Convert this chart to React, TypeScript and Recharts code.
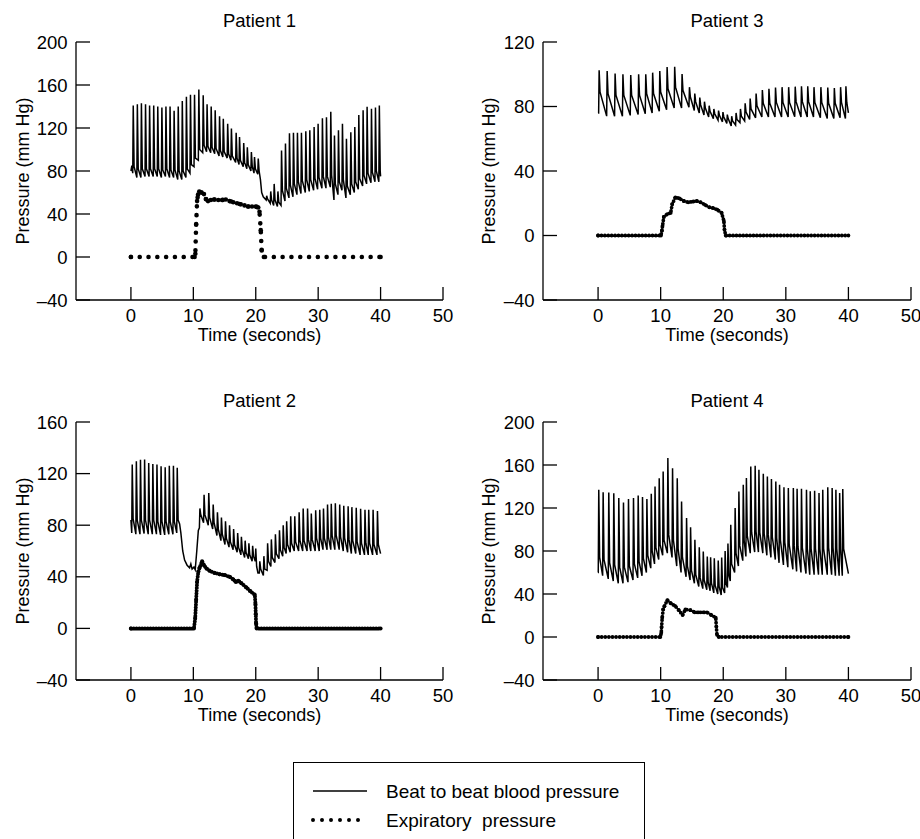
import React from 'react';
import { ComposedChart, Line, XAxis, YAxis } from 'recharts';

// ---------- shared axis values ----------
const X_TICKS = [0, 10, 20, 30, 40, 50];
const X_DOMAIN: [number, number] = [-8.8, 50];
const Y_TICKS_200 = [-40, 0, 40, 80, 120, 160, 200];
const Y_TICKS_160 = [-40, 0, 40, 80, 120, 160];
const Y_TICKS_120 = [-40, 0, 40, 80, 120];
const PANEL_TITLES = ['Patient 1', 'Patient 2', 'Patient 3', 'Patient 4'];
const X_LABEL = 'Time (seconds)';
const Y_LABEL = 'Pressure (mm Hg)';
const LEGEND_LABELS = ['Beat to beat blood pressure', 'Expiratory  pressure'];

// ---------- Patient 1 ----------
const p1BeatTime = [0.37, 1.03, 1.68, 2.34, 2.99, 3.65, 4.3, 4.96, 5.61, 6.27, 6.92, 7.58, 8.23, 8.89, 9.54,
  10.19, 10.88, 11.58, 12.2, 12.86, 13.5, 14.2, 14.8, 15.5, 16.1, 16.86, 17.4, 18.07, 18.65, 19.3, 19.8, 20.4,
  21.75, 22.4, 22.95, 23.55,
  24.13, 24.76, 25.4, 26.04, 26.68, 27.32, 28.02, 28.66, 29.35, 29.99, 30.68, 31.33, 32.02, 32.61, 33.25, 33.89, 34.53, 35.23, 35.87, 36.51, 37.2, 37.84, 38.54, 39.18, 39.8];
const p1Systolic = [141, 142, 143, 142, 141, 141, 140, 139, 140, 140, 136, 140, 145, 149, 151,
  151, 155.8, 150.5, 142, 140, 136.6, 131, 128.6, 124, 119.5, 115.6, 111.7, 106, 102, 97.7, 93, 91.6,
  57, 61, 68, 61,
  99, 105.5, 115, 115.5, 115.5, 115.5, 117, 118, 121, 124, 129, 130, 135, 113, 118, 124, 110, 116, 121, 132, 136.6, 139.7, 138, 139, 141];
const p1Diastolic = [78, 74, 74, 75, 75, 75, 75, 74, 75, 74, 74, 72, 72, 74, 78,
  84, 90, 97, 98, 97, 96, 94, 93, 92, 90, 88, 86, 84, 82, 80, 78, 77,
  53, 50, 48, 47,
  48, 52, 55, 56, 58, 59, 60, 61, 62, 63, 64, 64, 65, 53, 58, 62, 55, 58, 60, 63, 66, 68, 69, 70, 70];
const p1Notch = [84, 82, 82, 82, 82, 82, 82, 81, 82, 81, 81, 80, 80, 82, 86,
  92, 100, 104, 103, 102, 101, 99, 98, 96, 94, 92, 90, 88, 86, 84, 82, 80,
  54, 53, 53, 51,
  62, 64, 67, 68, 70, 71, 72, 72, 73, 74, 75, 75, 76, 68, 70, 72, 66, 68, 70, 73, 76, 78, 79, 80, 80];
const p1ExtraTime = [0, 0.15, 20.75, 20.95, 21.2, 40];
const p1ExtraValue = [80, 85, 72, 60, 56, 75];
const p1ExpTime = [0, 10.2, 10.32, 10.45, 10.6, 10.75, 10.95, 11.3, 11.7, 12.0, 12.35, 12.8, 13.4, 14.0, 14.6, 15.2, 15.8, 16.4, 17.0, 17.6, 18.2, 18.8, 19.4, 20.0, 20.4, 20.6, 20.8, 20.95, 21.3, 40];
const p1ExpValue = [0, 0, 3, 30, 52, 58, 61, 60, 58.5, 54, 52, 53, 53.5, 53, 53, 53.5, 52, 51, 50, 49, 48, 47, 47, 47, 46, 42, 25, 6, 0, 0];

// ---------- Patient 2 ----------
const p2BeatTime = [0.21, 0.87, 1.53, 2.19, 2.85, 3.51, 4.17, 4.83, 5.49, 6.15, 6.81, 7.42,
  11.05, 11.72, 12.47, 13.18, 13.86, 14.5, 15.15, 15.8, 16.45, 17.1, 17.7, 18.3, 18.9, 19.5, 20.0,
  20.65, 21.3, 21.9, 22.5, 23.15, 23.8, 24.4, 24.95, 25.6, 26.25, 26.95, 27.6, 28.3, 28.9, 29.6, 30.25, 30.85, 31.5, 32.1, 32.75, 33.45, 34.1, 34.8, 35.4, 36.1, 36.8, 37.5, 38.1, 38.8, 39.5];
const p2Systolic = [127, 129.5, 130.8, 131, 128.2, 127.5, 127, 125.6, 125, 126, 126, 124.5,
  93, 103.6, 105, 96, 90, 86, 83, 80, 77, 74, 71, 68, 66, 64, 62,
  52, 56, 66, 69, 73, 76, 80, 83, 87, 87, 90, 93, 93, 89, 91.5, 92, 93, 96, 96.6, 97, 96, 95, 94.6, 94, 93.5, 92.8, 92, 92, 92, 91];
const p2Diastolic = [74, 73, 73, 73.5, 73, 73, 73, 72.5, 72.5, 73, 73, 74,
  78, 82, 80, 77, 72, 68, 65, 63, 61, 59, 57, 55, 54, 52, 52,
  43, 41, 45, 48, 51, 54, 56, 58, 59, 60, 60, 60, 60, 60, 60, 60, 61, 61, 61, 61, 61, 60, 59, 58, 58, 57, 57, 57, 57, 57];
const p2Notch = [85, 84, 84, 84, 84, 84, 83, 83, 83, 83, 83, 84,
  88, 88, 86, 82, 77, 73, 70, 67, 65, 63, 61, 59, 57, 56, 48,
  46, 46, 52, 55, 58, 61, 63, 65, 66, 67, 68, 68, 69, 69, 70, 70, 70, 71, 72, 72, 71, 70, 69, 68, 67, 66, 66, 66, 65, 65];
const p2ExtraTime = [0, 7.8, 8.0, 8.3, 8.6, 9.0, 9.4, 9.6, 9.8, 10.1, 10.3, 10.55, 10.8, 20.35, 40];
const p2ExtraValue = [84, 81, 74, 60, 53, 49, 47, 50, 46, 47.5, 45.5, 60, 76, 43, 58];
const p2ExpTime = [0, 10.1, 10.3, 10.45, 10.6, 10.8, 11.0, 11.4, 11.7, 12.1, 12.6, 13.4, 14.2, 15.0, 15.8, 16.4, 16.8, 17.2, 17.7, 18.5, 19.1, 19.85, 19.95, 20.0, 20.05, 20.15, 40];
const p2ExpValue = [0, 0, 8, 22, 36, 44, 47, 52, 49, 46.5, 44.7, 43, 42, 41.3, 40, 38, 36, 37, 35, 31.7, 29, 26, 19, 11, 4, 0, 0];

// ---------- Patient 3 ----------
const p3BeatTime = [0.17, 1.45, 2.72, 3.97, 5.22, 6.48, 7.62, 8.72, 9.86, 11.03, 12.24, 13.42,
  14.6, 15.45, 16.25, 17.0, 17.75, 18.5, 19.25, 19.95, 20.65, 21.35, 22.05, 22.75, 23.5,
  24.3, 25.25, 26.25, 27.3, 28.35, 29.4, 30.45, 31.5, 32.5, 33.5, 34.5, 35.6, 36.7, 37.75, 38.75, 39.6];
const p3Systolic = [102.5, 102, 100.5, 100, 99.5, 100, 100, 101, 102, 104.5, 104.7, 100.2,
  92, 88, 85.5, 83, 80.5, 78.5, 77.5, 76.5, 75, 74, 76, 78.5, 82,
  85, 88, 90.2, 91, 91.7, 92, 92, 92.3, 92.5, 92.5, 92, 92, 91.7, 91.5, 92, 92.5];
const p3Diastolic = [76, 74, 74, 74, 74.5, 75, 75.5, 76, 77, 78, 79, 79,
  79.5, 77.5, 76, 74.7, 73.5, 72.5, 71.5, 70.5, 69.5, 68, 68.5, 70, 71,
  72, 73, 73.5, 73.5, 73.5, 73.5, 73.5, 73.7, 73.5, 73.5, 73.5, 73, 72.5, 72.5, 73, 72.5];
const p3Notch = [89, 88, 87, 87, 87, 87, 88, 88, 89, 91, 92, 90,
  86, 83, 81, 79, 77, 75.5, 74.5, 73.5, 72.5, 71, 72, 74, 76.5,
  78.5, 80.5, 82, 82, 82.5, 82.5, 82.5, 83, 83, 83, 82.5, 82.5, 82, 82, 82.5, 82.5];
const p3ExtraTime = [0, 40];
const p3ExtraValue = [76, 76];
const p3ExpTime = [0, 10.05, 10.2, 10.3, 10.5, 11.05, 11.6, 11.85, 12.35, 13.0, 13.7, 14.4, 15.1, 15.75, 16.4, 17.1, 17.8, 18.4, 19.05, 19.75, 20.1, 20.2, 20.4, 40];
const p3ExpValue = [0, 0, 3, 6, 11.5, 13.3, 14, 19.5, 23.7, 23, 21.4, 20.6, 21, 21.4, 20.6, 19, 17.5, 17, 16, 14, 9, 3.5, 0, 0];

// ---------- Patient 4 ----------
const p4BeatTime = [0.11, 0.81, 1.71, 2.51, 3.31, 4.06, 4.86, 5.66, 6.41, 7.1,
  7.8, 8.5, 9.1, 9.77, 10.4, 11.15, 11.9, 12.65, 13.34, 14.14,
  14.78, 15.47, 16.17, 16.81, 17.45, 17.98, 18.57, 19.2, 19.75, 20.3,
  20.75, 21.2, 21.9, 22.5, 23.2, 23.7, 24.4, 25.1, 25.7, 26.4,
  27.05, 27.7, 28.4, 29.0, 29.7, 30.4, 31.2, 31.8, 32.5, 33.3,
  33.9, 34.6, 35.3, 35.9, 36.7, 37.4, 38.0, 38.6, 39.1];
const p4Systolic = [137, 134.7, 134.4, 133.8, 129.2, 125.2, 128.3, 129.2, 131.7, 130.2,
  128.3, 133.2, 140, 147.7, 154, 166.4, 157, 147.7, 126, 110.6,
  102, 90.4, 83.5, 79.5, 74.9, 74.2, 73.3, 71.1, 74, 80,
  87, 104.4, 119.9, 135.4, 141.6, 147.8, 158.7, 159.3, 155.6, 151.8,
  149.4, 147, 144.7, 141.6, 139.4, 138.5, 138.5, 137.8, 137.8, 137,
  135.5, 136, 133.9, 137, 139.4, 138.5, 137, 133.9, 137.6];
const p4Diastolic = [60, 57, 54, 52, 50, 50, 51, 53, 55, 57,
  60, 64, 68, 72, 76, 78, 74, 66, 60, 56,
  53, 50, 47, 45, 44, 43, 41, 40, 39, 41,
  46, 52, 60, 66, 71, 75, 78, 79, 79, 78,
  76, 74, 72, 69, 67, 65, 63, 61, 60, 59,
  58, 58, 58, 58, 58, 58, 57, 57, 57];
const p4Notch = [74, 72, 69, 67, 65, 65, 66, 68, 70, 73,
  76, 80, 83, 86, 90, 95, 90, 82, 74, 66,
  62, 58, 55, 53, 51, 50, 48, 47, 46, 50,
  58, 68, 78, 85, 90, 94, 97, 98, 97, 96,
  95, 93, 92, 90, 88, 86, 85, 84, 83, 82,
  82, 82, 82, 82, 83, 83, 82, 82, 82];
const p4ExtraTime = [0, 40];
const p4ExtraValue = [60, 59];
const p4ExpTime = [0, 9.95, 10.1, 10.15, 10.25, 10.4, 10.6, 11.06, 11.65, 12.3, 12.9, 13.5, 13.95, 14.75, 15.45, 16.1, 16.8, 17.4, 18.1, 18.8, 18.9, 19.0, 19.3, 40];
const p4ExpValue = [0, 0, 4, 9.5, 18, 25.6, 28.7, 34.3, 31.2, 29, 25, 20.4, 25.6, 25, 23, 23, 23, 23, 20.4, 18, 9.5, 2, 0, 0];

// ---------- builders ----------
const RISE = 0.08; // onset -> systolic peak
const FALL = 0.14; // peak -> dicrotic notch

type Pt = { t: number; v: number };

function buildTrace(times: number[], sys: number[], dia: number[], notch: number[], exT: number[], exV: number[]): Pt[] {
  const pts: Pt[] = [];
  times.forEach((t, i) => {
    pts.push({ t: t - RISE, v: dia[i] });
    pts.push({ t, v: sys[i] });
    pts.push({ t: t + FALL, v: notch[i] });
  });
  exT.forEach((t, i) => pts.push({ t, v: exV[i] }));
  pts.sort((a, b) => a.t - b.t);
  return pts;
}

function buildSeries(times: number[], values: number[]): Pt[] {
  return times.map((t, i) => ({ t, v: values[i] }));
}

const fmtY = (v: number) => (v < 0 ? `\u2013${Math.abs(v)}` : `${v}`);

const XTick = (props: any) => {
  const { x, y, payload } = props;
  return (
    <g>
      <line x1={x} x2={x} y1={y} y2={y - 13} stroke="#000" strokeWidth={1.3} />
      <text x={x} y={y + 21.7} textAnchor="middle" fontSize={18.5} fill="#000">
        {payload.value}
      </text>
    </g>
  );
};

const YTick = (props: any) => {
  const { x, y, payload } = props;
  return (
    <g>
      <line x1={x} x2={x + 14} y1={y} y2={y} stroke="#000" strokeWidth={1.3} />
      <text x={x - 8.5} y={y} dy="0.36em" textAnchor="end" fontSize={18.5} fill="#000">
        {fmtY(payload.value)}
      </text>
    </g>
  );
};

type PanelProps = {
  left: number;
  top: number;
  title: string;
  yDomain: [number, number];
  yTicks: number[];
  yAxisWidth: number;
  rightMargin: number;
  yLabelOffset: number;
  bp: Pt[];
  exp: Pt[];
  dotSize: number;
  dotGap: number;
};

const W = 460;
const H = 360;

function Panel(p: PanelProps) {
  const titleX = (p.yAxisWidth + (W - p.rightMargin)) / 2;
  const r = p.dotSize / 2;
  return (
    <div style={{ position: 'absolute', left: p.left, top: p.top }}>
      <ComposedChart width={W} height={H} margin={{ top: 42, right: p.rightMargin, bottom: 32, left: 0 }}>
        <XAxis
          type="number"
          dataKey="t"
          domain={X_DOMAIN}
          ticks={X_TICKS}
          interval={0}
          allowDataOverflow
          height={28}
          tickSize={0}
          tickMargin={0}
          tickLine={false}
          axisLine={{ stroke: '#000', strokeWidth: 1.3 }}
          tick={XTick}
          label={{ value: X_LABEL, position: 'bottom', offset: 0, style: { fontSize: 18, fill: '#000' } }}
        />
        <YAxis
          type="number"
          domain={p.yDomain}
          ticks={p.yTicks}
          interval={0}
          allowDataOverflow
          width={p.yAxisWidth}
          tickSize={0}
          tickMargin={0}
          tickLine={false}
          axisLine={{ stroke: '#000', strokeWidth: 1.3 }}
          tick={YTick}
          label={{
            value: Y_LABEL,
            angle: -90,
            position: 'insideLeft',
            offset: p.yLabelOffset,
            style: { textAnchor: 'middle', fontSize: 18, fill: '#000' },
          }}
        />
        <Line
          data={p.bp}
          dataKey="v"
          type="linear"
          stroke="#000"
          strokeWidth={1.5}
          dot={false}
          activeDot={false}
          isAnimationActive={false}
        />
        <Line
          data={p.exp}
          dataKey="v"
          type="linear"
          stroke="#000"
          strokeWidth={p.dotSize}
          strokeDasharray={`0 ${p.dotGap}`}
          strokeLinecap="round"
          dot={(d: any) => <circle key={`d${d.index}`} cx={d.cx} cy={d.cy} r={r} fill="#000" />}
          activeDot={false}
          isAnimationActive={false}
        />
        <text x={titleX} y={26.7} textAnchor="middle" fontSize={18.5} fill="#000">
          {p.title}
        </text>
      </ComposedChart>
    </div>
  );
}

const bp1 = buildTrace(p1BeatTime, p1Systolic, p1Diastolic, p1Notch, p1ExtraTime, p1ExtraValue);
const bp2 = buildTrace(p2BeatTime, p2Systolic, p2Diastolic, p2Notch, p2ExtraTime, p2ExtraValue);
const bp3 = buildTrace(p3BeatTime, p3Systolic, p3Diastolic, p3Notch, p3ExtraTime, p3ExtraValue);
const bp4 = buildTrace(p4BeatTime, p4Systolic, p4Diastolic, p4Notch, p4ExtraTime, p4ExtraValue);
const ex1 = buildSeries(p1ExpTime, p1ExpValue);
const ex2 = buildSeries(p2ExpTime, p2ExpValue);
const ex3 = buildSeries(p3ExpTime, p3ExpValue);
const ex4 = buildSeries(p4ExpTime, p4ExpValue);

function LegendBox() {
  return (
    <svg
      width={352}
      height={77}
      style={{ position: 'absolute', left: 293, top: 762 }}
    >
      <rect x={0.5} y={0.5} width={351} height={120} fill="none" stroke="#000" strokeWidth={1} />
      <line x1={20} x2={74} y1={29} y2={29} stroke="#000" strokeWidth={1.3} />
      <line x1={20} x2={74} y1={58} y2={58} stroke="#000" strokeWidth={4} strokeDasharray="0 9" strokeLinecap="round" />
      <text x={93} y={35.5} fontSize={19} fill="#000">{LEGEND_LABELS[0]}</text>
      <text x={93} y={64.5} fontSize={19} fill="#000" style={{ whiteSpace: 'pre' }}>{LEGEND_LABELS[1]}</text>
    </svg>
  );
}

export default function App() {
  return (
    <div
      style={{
        position: 'absolute',
        left: 0,
        top: 0,
        width: 920,
        height: 839,
        background: '#fff',
        overflow: 'hidden',
        fontFamily: '"Liberation Sans", Arial, sans-serif',
      }}
    >
      <Panel left={0} top={0} title={PANEL_TITLES[0]} yDomain={[-40, 200]} yTicks={Y_TICKS_200}
        yAxisWidth={76} rightMargin={17} yLabelOffset={22.5} bp={bp1} exp={ex1} dotSize={4.6} dotGap={8.8} />
      <Panel left={460} top={0} title={PANEL_TITLES[2]} yDomain={[-40, 120]} yTicks={Y_TICKS_120}
        yAxisWidth={83} rightMargin={9} yLabelOffset={29} bp={bp3} exp={ex3} dotSize={3.8} dotGap={3.4} />
      <Panel left={0} top={380} title={PANEL_TITLES[1]} yDomain={[-40, 160]} yTicks={Y_TICKS_160}
        yAxisWidth={76} rightMargin={17} yLabelOffset={22.5} bp={bp2} exp={ex2} dotSize={4.0} dotGap={2.8} />
      <Panel left={460} top={380} title={PANEL_TITLES[3]} yDomain={[-40, 200]} yTicks={Y_TICKS_200}
        yAxisWidth={83} rightMargin={9} yLabelOffset={29} bp={bp4} exp={ex4} dotSize={3.8} dotGap={3.6} />
      <LegendBox />
    </div>
  );
}
